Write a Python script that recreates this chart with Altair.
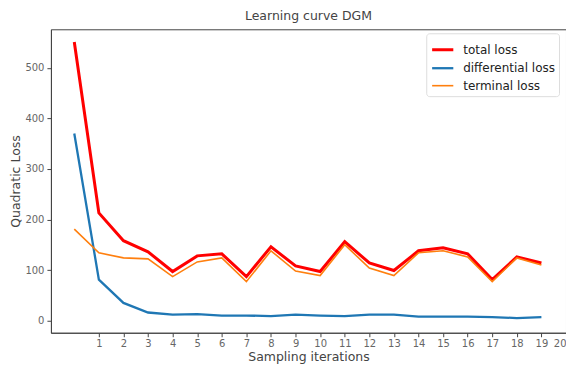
import altair as alt
import pandas as pd

iterations = list(range(20))
total_loss = [551, 213, 158, 136, 97, 128, 132, 87, 146, 108, 97, 156, 114, 99, 138, 144, 132, 81, 126, 114]
differential_loss = [370, 81, 35, 16, 12, 13, 10, 10, 9, 12, 10, 9, 12, 12, 8, 8, 8, 7, 5, 7]
terminal_loss = [181, 134, 124, 122, 87, 116, 124, 77, 138, 98, 89, 150, 104, 89, 134, 138, 126, 77, 124, 110]
series_names = ["total loss", "differential loss", "terminal loss"]
series_colors = ["#ff0000", "#1f77b4", "#ff7f0e"]
series_widths = [3, 1.6, 1.6]
x_ticks = list(range(1, 21))
y_ticks = [0, 100, 200, 300, 400, 500]

rows = []
for name, vals in zip(series_names, [total_loss, differential_loss, terminal_loss]):
    for i, v in zip(iterations, vals):
        rows.append({"it": i, "loss": v, "series": name, "order": series_names.index(name)})
df = pd.DataFrame(rows)

FONT = "DejaVu Sans"

chart = alt.Chart(df).mark_line().encode(
    x=alt.X("it:Q", scale=alt.Scale(domain=[-0.95, 20], nice=False, zero=False),
            axis=alt.Axis(values=x_ticks, title="Sampling iterations", grid=False,
                          labelFontSize=10, titleFontSize=12.5, labelColor="#666",
                          titleColor="#444", domainColor="#444", tickColor="#444",
                          labelFont=FONT, titleFont=FONT, titleFontWeight="normal",
                          tickSize=4, labelPadding=2, titlePadding=2)),
    y=alt.Y("loss:Q", scale=alt.Scale(domain=[-24, 576], nice=False, zero=False),
            axis=alt.Axis(values=y_ticks, title="Quadratic Loss", grid=False,
                          labelFontSize=10, titleFontSize=12.5, labelColor="#666",
                          titleColor="#444", domainColor="#444", tickColor="#444",
                          labelFont=FONT, titleFont=FONT, titleFontWeight="normal",
                          tickSize=4, labelPadding=3, titlePadding=2)),
    color=alt.Color("series:N", scale=alt.Scale(domain=series_names, range=series_colors),
                    legend=alt.Legend(title=None, orient="none", legendX=376, legendY=4,
                                      symbolType="stroke", symbolSize=450, symbolStrokeWidth=2,
                                      labelFontSize=12, labelFont=FONT, labelColor="#222",
                                      strokeColor="#ddd", fillColor="white", padding=4,
                                      cornerRadius=3, rowPadding=-3, labelOffset=8)),
    strokeWidth=alt.StrokeWidth("series:N", scale=alt.Scale(domain=series_names, range=series_widths),
                                legend=None),
    order=alt.Order("order:Q", sort="descending"),
    detail="series:N",
).properties(
    width=516, height=304,
    title=alt.TitleParams("Learning curve DGM", fontSize=12.5, font=FONT, fontWeight="normal",
                          color="#444", offset=7),
    autosize=alt.AutoSizeParams(type="none"),
    padding={"left": 43, "top": 21, "right": 0, "bottom": 33},
).configure_view(stroke="#444", strokeWidth=1)

chart.save("out.html", embed_options={"renderer": "svg", "actions": False})
